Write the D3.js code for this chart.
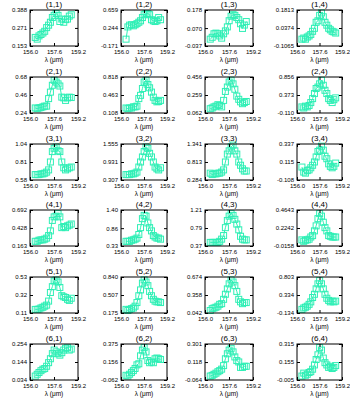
<!DOCTYPE html>
<html><head><meta charset="utf-8">
<script src="https://cdn.jsdelivr.net/npm/d3@7"></script>
<style>
body{margin:0;background:#fff;}
svg{display:block;}
text{font-family:"Liberation Sans","DejaVu Sans",sans-serif;fill:#000;}
</style></head>
<body>
<script>
// wavelength grid (μm)
const wavelength = [156.35,156.48,156.60,156.73,156.86,156.98,157.11,157.24,157.36,157.49,157.61,157.74,157.87,157.99,158.12,158.25,158.37,158.50,158.62,158.75];
const xTickLabels = ["156.0","157.6","159.2"];
const panelTitles = ["(1,1)","(1,2)","(1,3)","(1,4)","(2,1)","(2,2)","(2,3)","(2,4)","(3,1)","(3,2)","(3,3)","(3,4)","(4,1)","(4,2)","(4,3)","(4,4)","(5,1)","(5,2)","(5,3)","(5,4)","(6,1)","(6,2)","(6,3)","(6,4)"];
// y tick labels per panel: [top, middle, bottom]
const yTickLabels = [
 ["0.388","0.271","0.153"],["0.659","0.244","-0.171"],["0.178","0.070","-0.037"],["0.1813","0.0374","-0.1065"],
 ["0.68","0.46","0.24"],["0.818","0.463","0.108"],["0.456","0.259","0.062"],["0.856","0.373","-0.110"],
 ["1.04","0.81","0.58"],["1.555","0.931","0.307"],["1.341","0.813","0.284"],["0.337","0.115","-0.108"],
 ["0.692","0.428","0.163"],["1.40","0.86","0.33"],["1.21","0.79","0.37"],["0.4643","0.2242","-0.0158"],
 ["0.53","0.32","0.11"],["0.840","0.507","0.175"],["0.674","0.358","0.042"],["0.803","0.334","-0.134"],
 ["0.254","0.144","0.034"],["0.375","0.156","-0.062"],["0.301","0.118","-0.064"],["0.315","0.155","-0.005"]
];
// flux per panel
const flux11 = [0.209,0.198,0.219,0.228,0.238,0.249,0.273,0.289,0.308,0.339,0.353,0.365,0.353,0.313,0.329,0.308,0.325,0.329,0.348,0.357];
const flux12 = [-0.013,0.269,0.310,0.319,0.294,0.319,0.344,0.377,0.410,0.485,0.551,0.576,0.576,0.551,0.435,0.410,0.393,0.410,0.485,0.435];
const flux13 = [0.004,0.015,0.036,0.040,0.036,0.023,0.010,0.036,0.053,0.077,0.114,0.141,0.150,0.146,0.133,0.120,0.096,0.068,0.088,0.109];
const flux14 = [-0.052,-0.043,-0.052,-0.035,-0.026,-0.014,0.011,0.035,0.083,0.095,0.138,0.158,0.127,0.083,0.060,0.035,0.023,0.011,0.006,-0.003];
const flux21 = [0.302,0.293,0.302,0.306,0.315,0.324,0.324,0.416,0.495,0.579,0.640,0.618,0.596,0.570,0.434,0.425,0.394,0.425,0.434,0.429];
const flux22 = [0.207,0.193,0.207,0.207,0.229,0.229,0.243,0.392,0.456,0.591,0.719,0.754,0.669,0.605,0.520,0.420,0.357,0.328,0.335,0.357];
const flux23 = [0.109,0.117,0.129,0.137,0.153,0.145,0.129,0.200,0.298,0.346,0.401,0.421,0.381,0.322,0.247,0.212,0.184,0.164,0.176,0.188];
const flux24 = [0.054,0.025,0.074,0.054,0.093,0.170,0.276,0.412,0.547,0.586,0.672,0.769,0.634,0.499,0.412,0.276,0.228,0.170,0.247,0.296];
const flux31 = [0.649,0.649,0.649,0.658,0.658,0.667,0.681,0.709,0.810,0.943,0.985,1.003,0.953,0.943,0.810,0.736,0.709,0.723,0.736,0.746];
const flux32 = [0.494,0.494,0.494,0.519,0.519,0.544,0.582,0.756,0.931,1.106,1.293,1.455,1.405,1.231,1.106,0.931,0.756,0.694,0.656,0.731];
const flux33 = [0.485,0.443,0.464,0.464,0.485,0.485,0.517,0.580,0.813,1.045,1.140,1.256,1.309,1.140,1.045,0.813,0.717,0.612,0.548,0.548];
const flux34 = [0.052,-0.010,-0.023,0.008,0.017,0.043,0.074,0.115,0.177,0.244,0.261,0.310,0.261,0.186,0.155,0.092,0.061,0.043,0.061,0.101];
const flux41 = [0.232,0.232,0.248,0.253,0.253,0.264,0.279,0.316,0.385,0.539,0.591,0.602,0.639,0.591,0.433,0.449,0.433,0.459,0.470,0.486];
const flux42 = [0.469,0.469,0.469,0.501,0.512,0.533,0.565,0.672,0.876,1.143,1.240,1.218,1.015,0.876,0.779,0.640,0.598,0.565,0.565,0.533];
const flux43 = [0.454,0.454,0.454,0.454,0.454,0.479,0.530,0.614,0.798,0.966,1.067,1.126,1.084,0.992,0.882,0.748,0.597,0.530,0.513,0.513];
const flux44 = [0.066,0.047,0.061,0.066,0.075,0.104,0.123,0.186,0.253,0.349,0.416,0.383,0.301,0.229,0.186,0.123,0.114,0.104,0.104,0.104];
const flux51 = [0.152,0.152,0.156,0.169,0.177,0.190,0.202,0.249,0.349,0.417,0.484,0.496,0.471,0.408,0.312,0.299,0.291,0.270,0.257,0.282];
const flux52 = [0.242,0.222,0.242,0.255,0.268,0.301,0.368,0.494,0.601,0.727,0.787,0.747,0.680,0.574,0.494,0.428,0.394,0.381,0.381,0.368];
const flux53 = [0.086,0.118,0.130,0.143,0.162,0.194,0.206,0.282,0.371,0.465,0.554,0.623,0.586,0.522,0.421,0.282,0.238,0.206,0.225,0.225];
const flux54 = [-0.040,-0.003,0.016,0.044,0.091,0.156,0.269,0.353,0.494,0.625,0.709,0.625,0.494,0.353,0.250,0.194,0.156,0.175,0.156,0.175];
const flux61 = [0.058,0.069,0.080,0.091,0.100,0.104,0.118,0.140,0.164,0.195,0.217,0.206,0.195,0.186,0.201,0.217,0.228,0.232,0.217,0.223];
const flux62 = [-0.005,-0.014,0.008,0.030,0.052,0.078,0.122,0.135,0.231,0.301,0.331,0.279,0.174,0.148,0.157,0.148,0.196,0.205,0.196,0.187];
const flux63 = [-0.024,-0.017,-0.006,0.005,0.020,0.031,0.046,0.082,0.151,0.202,0.239,0.257,0.221,0.170,0.133,0.119,0.064,0.064,0.075,0.075];
const flux64 = [0.030,0.056,0.037,0.046,0.062,0.069,0.091,0.129,0.177,0.219,0.283,0.261,0.190,0.149,0.129,0.107,0.117,0.097,0.107,0.123];

const fluxes = [flux11,flux12,flux13,flux14,flux21,flux22,flux23,flux24,flux31,flux32,flux33,flux34,
                flux41,flux42,flux43,flux44,flux51,flux52,flux53,flux54,flux61,flux62,flux63,flux64];

const W = 350, H = 400;
const colLeft = [30,121,205,297], colWidth = [48,46,48,45];
const rowTop = [10,77,144,210,277,344], boxH = 36;
const color = "#2eefb5";

const svg = d3.select("body").append("svg").attr("width",W).attr("height",H);

fluxes.forEach((flux,i)=>{
  const r = Math.floor(i/4), c = i%4;
  const x0 = colLeft[c], y0 = rowTop[r], w = colWidth[c], h = boxH;
  const yl = yTickLabels[i];
  const yVals = yl.map(Number);
  const xVals = xTickLabels.map(Number);
  const x = d3.scaleLinear().domain([xVals[0], xVals[2]]).range([0,w]);
  const y = d3.scaleLinear().domain([yVals[2], yVals[0]]).range([h,0]);
  const g = svg.append("g").attr("transform",`translate(${x0},${y0})`);

  // data
  const pts = wavelength.map((wl,k)=>[wl, flux[k]]);
  g.append("path").datum(pts)
    .attr("fill","none").attr("stroke",color).attr("stroke-width",1)
    .attr("d", d3.line().x(d=>x(d[0])).y(d=>y(d[1])));
  const s = 6;
  g.selectAll("rect.m").data(pts).enter().append("rect")
    .attr("x",d=>x(d[0])-s/2).attr("y",d=>y(d[1])-s/2)
    .attr("width",s).attr("height",s)
    .attr("fill","none").attr("stroke",color).attr("stroke-width",1);

  // axes
  const fmtY = (d)=> yl[yVals.indexOf(d)];
  const fmtX = (d)=> xTickLabels[xVals.indexOf(d)];
  const axL = g.append("g").call(d3.axisLeft(y).tickValues(yVals).tickFormat(fmtY).tickSize(-3).tickPadding(3));
  const axR = g.append("g").attr("transform",`translate(${w},0)`).call(d3.axisRight(y).tickValues(yVals).tickFormat("").tickSize(-3));
  const axB = g.append("g").attr("transform",`translate(0,${h})`).call(d3.axisBottom(x).tickValues(xVals).tickFormat(fmtX).tickSize(-3).tickPadding(4));
  const axT = g.append("g").call(d3.axisTop(x).tickValues(xVals).tickFormat("").tickSize(-3));
  [axL,axR,axB,axT].forEach(a=>{
    a.select(".domain").remove();
    a.selectAll("line").attr("stroke","#000");
    a.selectAll("text").style("font-size","6px").attr("font-family",null);
  });
  g.append("rect").attr("width",w).attr("height",h).attr("fill","none").attr("stroke","#000").attr("stroke-width",1);

  g.append("text").attr("x",w/2).attr("y",-3).attr("text-anchor","middle").style("font-size","8px").text(panelTitles[i]);
  g.append("text").attr("x",w/2).attr("y",h+16).attr("text-anchor","middle").style("font-size","6.5px").text("λ (μm)");
});
</script>
</body></html>
